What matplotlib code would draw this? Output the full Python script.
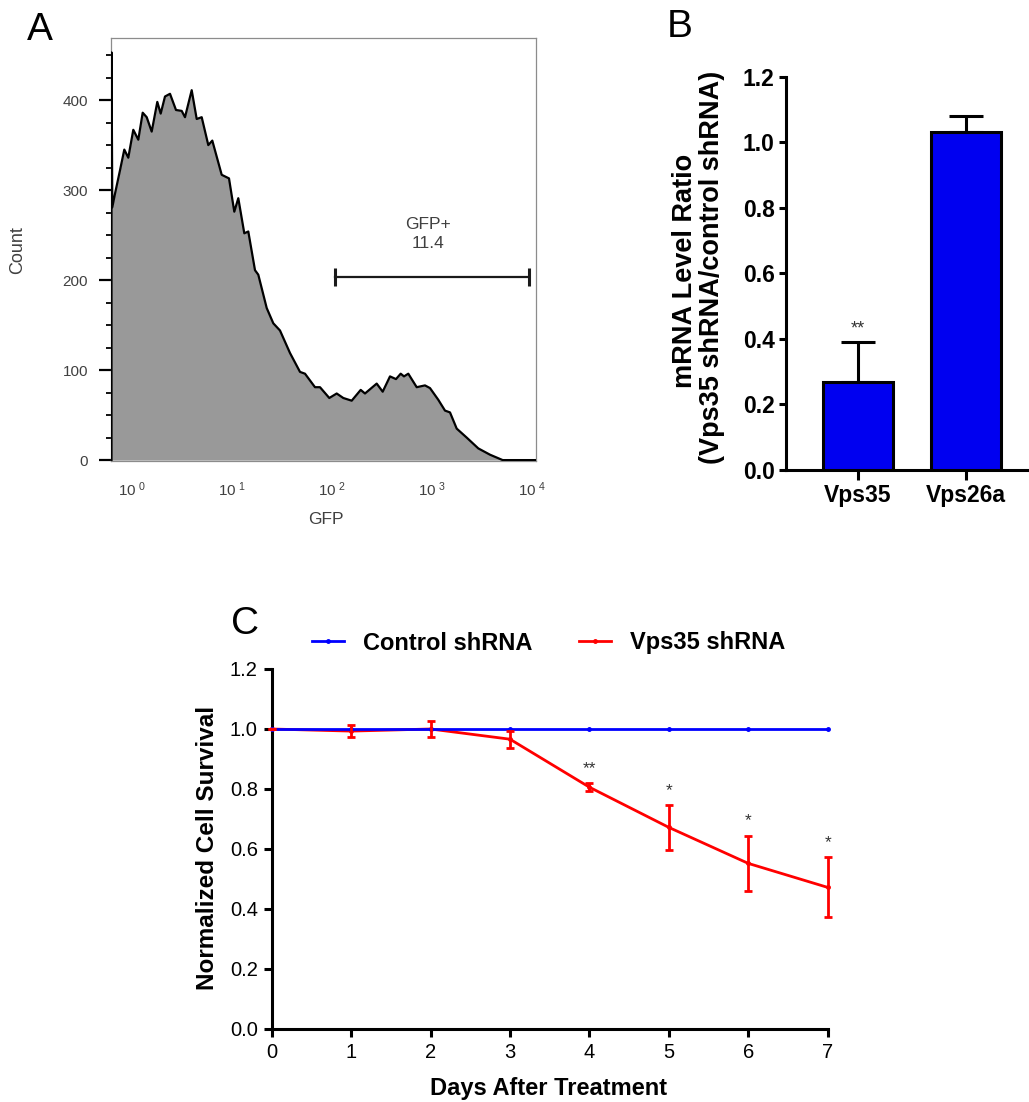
import numpy as np
import matplotlib
matplotlib.use('Agg')
import matplotlib.pyplot as plt
from matplotlib.ticker import MultipleLocator, NullLocator, FormatStrFormatter

plt.rcParams['font.family'] = ['Liberation Sans', 'DejaVu Sans']
plt.rcParams['mathtext.default'] = 'regular'

# ---------------- Data ----------------
# Panel A: flow cytometry histogram (GFP, log10 decades) and counts
gfp_log10 = [-0.205, -0.205, -0.197, -0.17, -0.12, -0.077, -0.037, 0.013, 0.063, 0.107,
             0.147, 0.197, 0.253, 0.287, 0.33, 0.38, 0.44, 0.497, 0.53, 0.597,
             0.647, 0.697, 0.763, 0.803, 0.897, 0.97, 1.023, 1.063, 1.123, 1.163,
             1.23, 1.263, 1.347, 1.413, 1.48, 1.58, 1.68, 1.73, 1.83, 1.88,
             1.973, 2.047, 2.113, 2.197, 2.287, 2.33, 2.447, 2.507, 2.58, 2.64,
             2.687, 2.72, 2.763, 2.847, 2.93, 2.98, 3.063, 3.13, 3.18, 3.247,
             3.347, 3.463, 3.58, 3.707, 4.04]
gfp_counts = [0, 453, 281, 296, 322, 345, 336, 367, 356, 386,
              381, 365, 398, 385, 404, 407, 389, 388, 381, 411,
              379, 381, 350, 355, 317, 313, 276, 291, 252, 254,
              211, 206, 169, 152, 144, 119, 98, 96, 81, 81,
              69, 74, 69, 66, 78, 74, 85, 76, 93, 90,
              96, 93, 96, 81, 83, 80, 67, 55, 53, 35,
              25, 13, 6, 0, 0]
gate_log10 = [2.03, 3.97]
gate_count = 204
gate_name = "GFP+"
gate_pct = "11.4"
decades = [0, 1, 2, 3, 4]
count_ticks = [0, 100, 200, 300, 400]

# Panel B: mRNA level ratio
genes = ['Vps35', 'Vps26a']
mrna_ratio = [0.27, 1.03]
mrna_err = [0.12, 0.05]
mrna_sig = ['**', '']

# Panel C: survival time course
days = [0, 1, 2, 3, 4, 5, 6, 7]
control_surv = [1.0, 1.0, 1.0, 1.0, 1.0, 1.0, 1.0, 1.0]
vps35_surv = [1.0, 0.993, 1.0, 0.966, 0.806, 0.672, 0.552, 0.472]
vps35_err = [0.0, 0.02, 0.027, 0.028, 0.013, 0.074, 0.092, 0.10]
vps35_sig = ['', '', '', '', '**', '*', '*', '*']

# ---------------- Figure ----------------
W, H = 1029, 1102
fig = plt.figure(figsize=(W / 100, H / 100), dpi=100)


def rect(l, t, r, b):
    return [l / W, 1 - b / H, (r - l) / W, (b - t) / H]


def fx(x):
    return x / W


def fy(y):
    return 1 - y / H


# ---------- Panel A ----------
axA = fig.add_axes(rect(111, 38, 536, 461))
gx = 10 ** np.array(gfp_log10)
axA.fill_between(gx, 0, gfp_counts, color='#999999', lw=0, zorder=2)
axA.plot(gx, gfp_counts, color='black', lw=1.6, zorder=3)
axA.set_xscale('log')
axA.set_xlim(10 ** -0.21, 10 ** 4.04)
axA.set_ylim(-1, 469)
for s in axA.spines.values():
    s.set_color('#8c8c8c')
    s.set_linewidth(0.9)
axA.set_yticks(count_ticks)
axA.yaxis.set_minor_locator(MultipleLocator(25))
axA.tick_params(axis='y', which='major', length=8.5, width=1.6, color='black',
                pad=8, labelsize=11, labelcolor='#404040')
axA.tick_params(axis='y', which='minor', length=3.6, width=1.3, color='black')
axA.set_xticks([10.0 ** k for k in decades])
axA.set_xticklabels([r'$10^{\ %d}$' % k for k in decades])
axA.xaxis.set_minor_locator(NullLocator())
axA.tick_params(axis='x', which='major', length=0, pad=14, labelsize=11,
                labelcolor='#404040')
gate_x = 10 ** np.array(gate_log10)
axA.plot(gate_x, [gate_count, gate_count], color='#1a1a1a', lw=1.6, zorder=4)
axA.plot(gate_x, [gate_count, gate_count], ls='none', marker='|', ms=13.5,
         mew=2.2, color='#1a1a1a', zorder=4)
axA.text(10 ** np.mean([2.0, 3.92]), gate_count + 47, gate_name + "\n" + gate_pct,
         ha='center', va='center', fontsize=12.5, color='#404040', linespacing=1.35)
fig.text(fx(18), fy(250), 'Count', rotation=90, ha='center', va='center',
         fontsize=13, color='#404040')
fig.text(fx(326), fy(519), 'GFP', ha='center', va='center', fontsize=12.5,
         color='#404040')

# ---------- Panel B ----------
axB = fig.add_axes(rect(785.7, 76.7, 1029, 470))
xpos = np.arange(len(genes))
axB.errorbar(xpos, mrna_ratio, yerr=[np.zeros(len(genes)), mrna_err], fmt='none',
             ecolor='black', elinewidth=2.2, capsize=12, capthick=2.2, zorder=2)
axB.bar(xpos, mrna_ratio, width=0.64, color='#0000f0', edgecolor='black',
        linewidth=2.2, zorder=3)
for xi, v, e, sg in zip(xpos, mrna_ratio, mrna_err, mrna_sig):
    if sg:
        axB.text(xi, v + e + 0.04, sg, ha='center', va='center', fontsize=13,
                 color='#333333')
axB.set_xlim(-0.669, 1.583)
axB.set_ylim(0, 1.2)
axB.spines['top'].set_visible(False)
axB.spines['right'].set_visible(False)
axB.spines['left'].set_linewidth(2.2)
axB.spines['bottom'].set_linewidth(2.2)
axB.set_yticks(np.arange(0, 1.21, 0.2))
axB.yaxis.set_major_formatter(FormatStrFormatter('%.1f'))
axB.set_xticks(xpos)
axB.set_xticklabels(genes)
axB.tick_params(axis='y', length=5, width=2.2, pad=3, labelsize=16.5)
axB.tick_params(axis='x', length=7, width=2.2, pad=3, labelsize=16.5)
for lab in axB.get_xticklabels() + axB.get_yticklabels():
    lab.set_fontweight('bold')
fig.text(fx(685), fy(271), 'mRNA Level Ratio', rotation=90, ha='center',
         va='center', fontsize=19.5, fontweight='bold')
fig.text(fx(712), fy(267), '(Vps35 shRNA/control shRNA)', rotation=90,
         ha='center', va='center', fontsize=19.5, fontweight='bold')

# ---------- Panel C ----------
axC = fig.add_axes(rect(271.7, 669, 827.7, 1029))
red_line, = axC.plot(days, vps35_surv, color='#ff0000', lw=2.0, marker='o', ms=2.5,
                     zorder=3, clip_on=False)
blue_line, = axC.plot(days, control_surv, color='#0000ff', lw=2.0, marker='o', ms=2.5,
                      zorder=4, clip_on=False)
eb = axC.errorbar(days, vps35_surv, yerr=vps35_err, fmt='none', ecolor='#ff0000',
                  elinewidth=2.0, capsize=2.6, capthick=2.0, zorder=5)
for art in list(eb.lines[1]) + list(eb.lines[2]):
    art.set_clip_on(False)
for d, v, e, sg in zip(days, vps35_surv, vps35_err, vps35_sig):
    if sg:
        axC.text(d, v + e + 0.05, sg, ha='center', va='center', fontsize=12.5,
                 color='#333333')
axC.set_xlim(0, 7)
axC.set_ylim(0, 1.2)
axC.spines['top'].set_visible(False)
axC.spines['right'].set_visible(False)
axC.spines['left'].set_linewidth(2.2)
axC.spines['bottom'].set_linewidth(2.2)
axC.set_xticks(days)
axC.set_yticks(np.arange(0, 1.21, 0.2))
axC.yaxis.set_major_formatter(FormatStrFormatter('%.1f'))
axC.tick_params(axis='both', length=6, width=2.2, labelsize=14.5, pad=4)
fig.text(fx(207), fy(848), 'Normalized Cell Survival', rotation=90, ha='center',
         va='center', fontsize=17.5, fontweight='bold')
fig.text(fx(549), fy(1088), 'Days After Treatment', ha='center', va='center',
         fontsize=17, fontweight='bold')
fig.legend([blue_line, red_line], ['Control shRNA', 'Vps35 shRNA'],
           loc='center left', bbox_to_anchor=(fx(312), fy(643)), ncol=2,
           frameon=False, prop={'size': 17, 'weight': 'bold'}, handlelength=1.35,
           handletextpad=0.8, columnspacing=2.0, borderpad=0, borderaxespad=0)

# Panel letters
fig.text(fx(40), fy(30), 'A', ha='center', va='center', fontsize=28)
fig.text(fx(680), fy(27), 'B', ha='center', va='center', fontsize=28)
fig.text(fx(245), fy(624), 'C', ha='center', va='center', fontsize=28)

fig.savefig('out.png', dpi=100)
